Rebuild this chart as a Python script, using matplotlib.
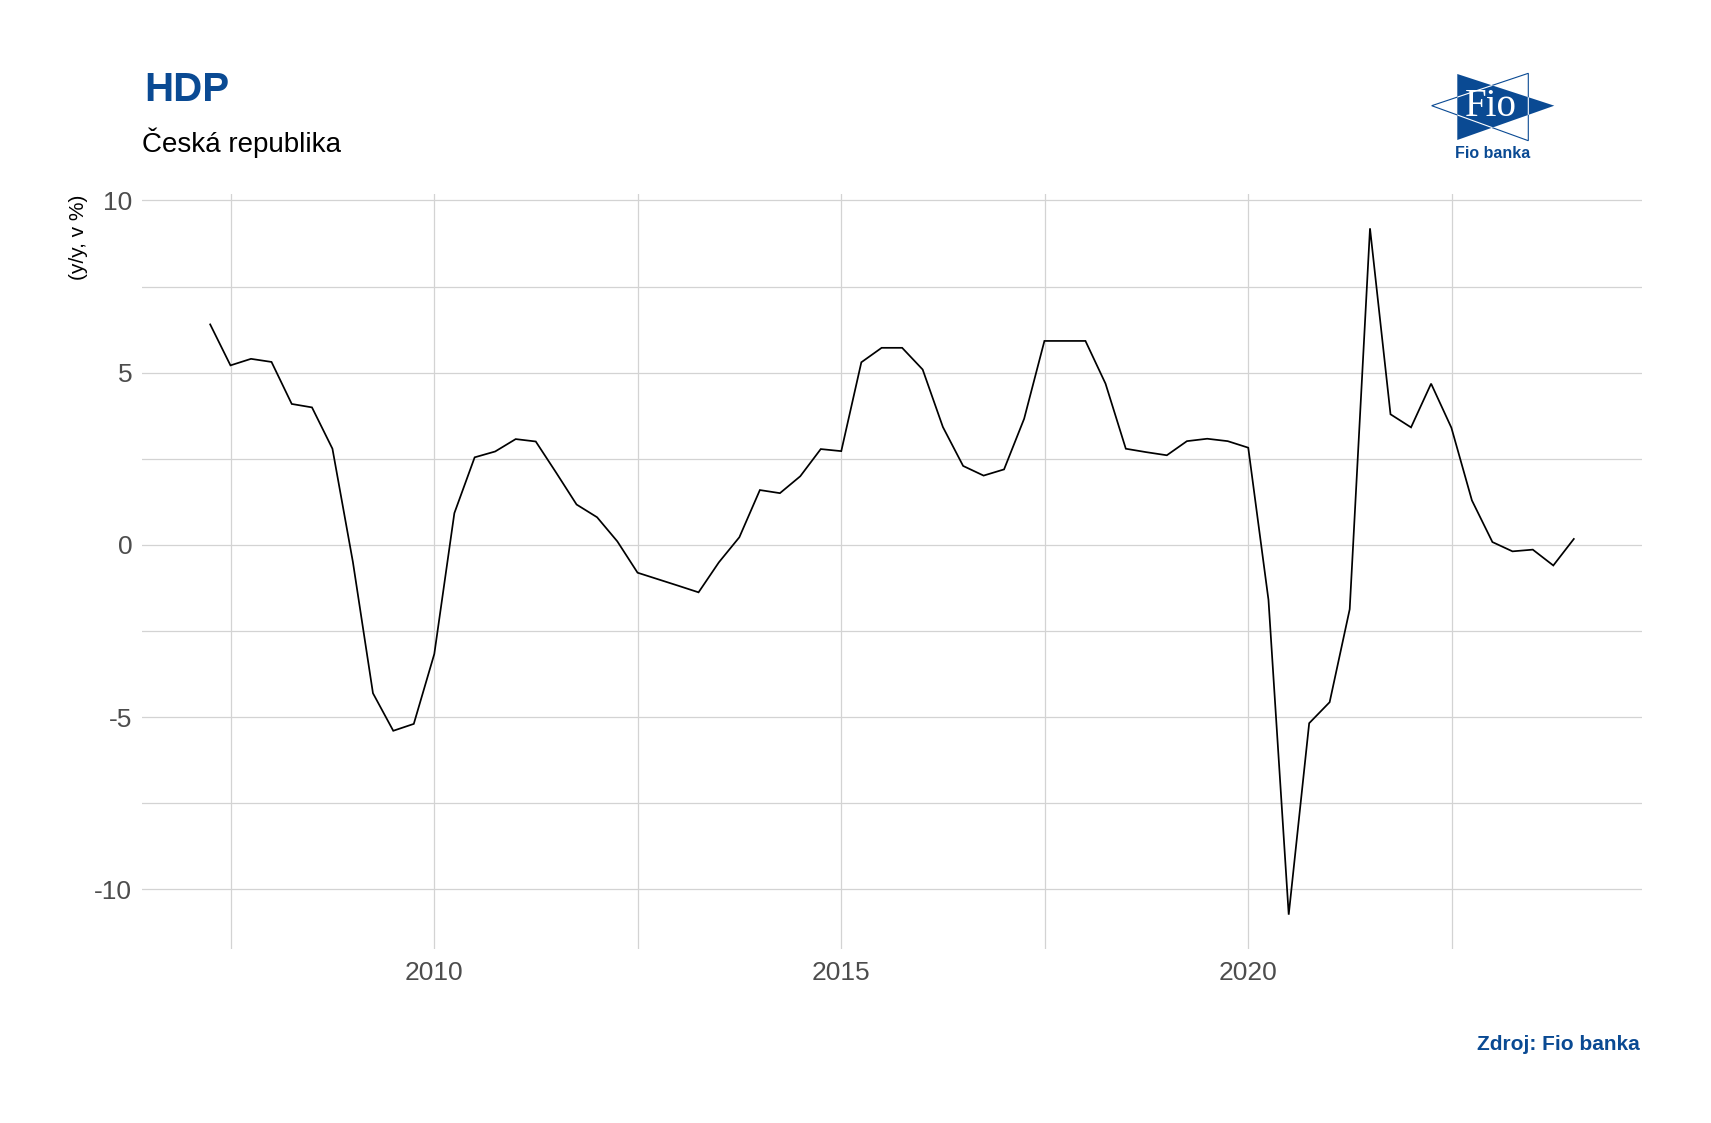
import numpy as np
import pandas as pd
import matplotlib
matplotlib.use("Agg")
import matplotlib.pyplot as plt
import matplotlib.patches as patches
from matplotlib.ticker import FixedLocator

plt.rcParams['font.family'] = ['Liberation Sans', 'DejaVu Sans']

FIO_BLUE = '#0a4a93'
W, H = 1711, 1123

# quarterly GDP growth y/y, 2007Q1 .. 2023Q4
start_quarter = '2007-03-31'
end_quarter = '2023-12-31'
hdp = [
    6.40, 5.21, 5.40, 5.31, 4.09, 3.99, 2.79, -0.50,
    -4.31, -5.40, -5.20, -3.17, 0.92, 2.54, 2.71, 3.07,
    3.00, 2.10, 1.17, 0.80, 0.10, -0.81, -1.00, -1.19,
    -1.38, -0.51, 0.22, 1.59, 1.50, 1.99, 2.78, 2.72,
    5.30, 5.72, 5.72, 5.09, 3.42, 2.29, 2.01, 2.19,
    3.66, 5.92, 5.92, 5.92, 4.68, 2.79, 2.69, 2.60,
    3.01, 3.08, 3.01, 2.82, -1.60, -10.74, -5.18, -4.57,
    -1.87, 9.19, 3.79, 3.41, 4.68, 3.40, 1.29, 0.08,
    -0.19, -0.14, -0.60, 0.17,
]
x_major = [2010, 2015, 2020]
x_minor = [2007.5, 2012.5, 2017.5, 2022.5]
y_major = [-10, -5, 0, 5, 10]
y_minor = [-7.5, -2.5, 2.5, 7.5]

title = 'HDP'
subtitle = 'Česká republika'
ylabel = '(y/y, v %)'
source = 'Zdroj: Fio banka'


def to_year(d):
    # decimal year of a timestamp
    start = pd.Timestamp(year=d.year, month=1, day=1)
    end = pd.Timestamp(year=d.year + 1, month=1, day=1)
    return d.year + (d - start) / (end - start)


dates = pd.date_range(start_quarter, end_quarter, freq='QE')
x = np.array([to_year(d + pd.Timedelta(days=1)) for d in dates])
y = np.array(hdp)

fig = plt.figure(figsize=(W / 100, H / 100), dpi=100)
ax = fig.add_axes([142 / W, 1 - 949 / H, 1500 / W, 755 / H])

ax.plot(x, y, color='black', lw=1.25, solid_joinstyle='miter', zorder=3)

xr = x.max() - x.min()
yr = y.max() - y.min()
ax.set_xlim(x.min() - 0.05 * xr, x.max() + 0.05 * xr)
ax.set_ylim(y.min() - 0.05 * yr, y.max() + 0.05 * yr)

ax.xaxis.set_major_locator(FixedLocator(x_major))
ax.xaxis.set_minor_locator(FixedLocator(x_minor))
ax.yaxis.set_major_locator(FixedLocator(y_major))
ax.yaxis.set_minor_locator(FixedLocator(y_minor))
ax.set_xticklabels([str(v) for v in x_major])
ax.set_yticklabels([str(v) for v in y_major])

ax.grid(which='both', color='#d3d3d3', lw=0.9, zorder=0)
ax.tick_params(which='both', length=0, labelsize=19, labelcolor='#4d4d4d')
ax.tick_params(axis='x', pad=9)
ax.tick_params(axis='y', pad=7)
for s in ax.spines.values():
    s.set_visible(False)

# titles
fig.text(144 / W, 1 - 100.7 / H, title, fontsize=29, fontweight='bold',
         color=FIO_BLUE, ha='left', va='baseline')
fig.text(142 / W, 1 - 151.7 / H, subtitle, fontsize=20, color='black',
         ha='left', va='baseline')
fig.text(78 / W, 1 - 195 / H, ylabel, fontsize=15, color='black',
         rotation=90, ha='center', va='top')
fig.text(1640 / W, 1 - 1044 / H, source, fontsize=15, fontweight='bold',
         color=FIO_BLUE, ha='right', va='center')

# logo, drawn in pixel coordinates
lg = fig.add_axes([0, 0, 1, 1], zorder=5)
lg.set_xlim(0, W)
lg.set_ylim(H, 0)
lg.axis('off')
lg.patch.set_alpha(0)

blue_tri = patches.Polygon([[1457.3, 74], [1457.3, 140], [1554.3, 105.7]],
                           closed=True, facecolor=FIO_BLUE, edgecolor='none')
lg.add_patch(blue_tri)
out_tri = [[1528.3, 73.3], [1528.3, 140.7], [1431.7, 105.7]]
lg.add_patch(patches.Polygon(out_tri, closed=True, facecolor='none',
                             edgecolor=FIO_BLUE, lw=0.8))
inner = patches.Polygon(out_tri, closed=True, facecolor='none',
                        edgecolor='white', lw=0.8)
lg.add_patch(inner)
inner.set_clip_path(blue_tri)
lg.text(1490.5, 106, 'Fio', fontsize=28, color='white',
        family=['Liberation Serif', 'DejaVu Serif'], ha='center', va='center')
lg.text(1493, 154, 'Fio banka', fontsize=11.5, fontweight='bold',
        color=FIO_BLUE, ha='center', va='center')

fig.savefig('out.png', dpi=100)
plt.close(fig)
